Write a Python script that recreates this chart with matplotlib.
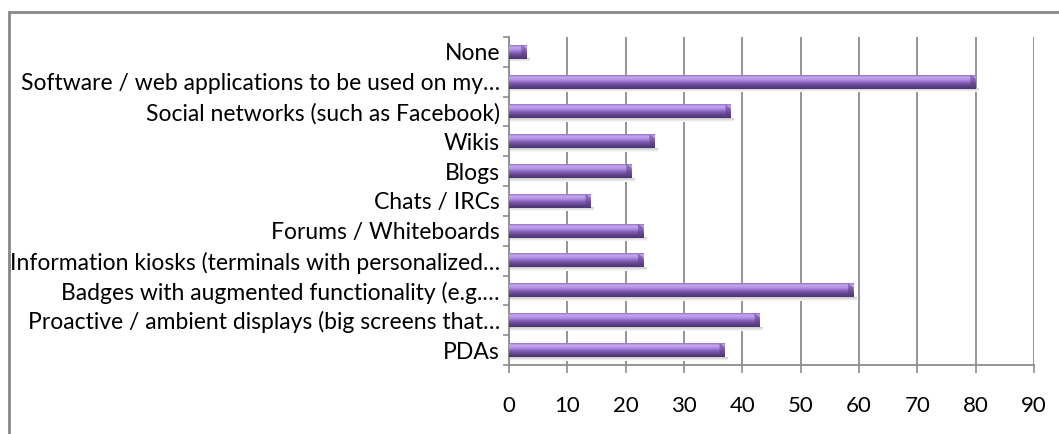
import matplotlib.pyplot as plt
import numpy as np
from matplotlib.colors import LinearSegmentedColormap
from matplotlib.patches import Rectangle

categories = [
    "PDAs",
    "Proactive / ambient displays (big screens that\u2026",
    "Badges with augmented functionality (e.g.\u2026",
    "Information kiosks (terminals with personalized\u2026",
    "Forums / Whiteboards",
    "Chats / IRCs",
    "Blogs",
    "Wikis",
    "Social networks (such as Facebook)",
    "Software / web applications to be used on my\u2026",
    "None",
]
values = [37, 43, 59, 23, 23, 14, 21, 25, 38, 80, 3]
x_ticks = [0, 10, 20, 30, 40, 50, 60, 70, 80, 90]

plt.rcParams["font.family"] = ["Lato", "DejaVu Sans"]

fig = plt.figure(figsize=(10.59, 4.34), dpi=100)
ax = fig.add_axes([509 / 1059, 69 / 434, 525 / 1059, 328 / 434])

# purple "cylinder" shading, top to bottom
bar_cmap = LinearSegmentedColormap.from_list(
    "cyl",
    [
        (0.0, "#9274c2"),
        (0.15, "#c7a6f3"),
        (0.35, "#b08ee3"),
        (0.55, "#8460b8"),
        (0.8, "#5e4287"),
        (1.0, "#4a3470"),
    ],
)
grad = np.linspace(0, 1, 64).reshape(-1, 1)
shadow = LinearSegmentedColormap.from_list("sh", [(0, "#c8c8c8"), (1, "#ffffff")])

h = 0.46
for i, v in enumerate(values):
    # soft shadow under the bar
    ax.imshow(grad, cmap=shadow, aspect="auto", origin="upper",
              extent=(0, v + 0.5, i - h / 2 - 0.12, i - h / 2), zorder=1.5,
              interpolation="bilinear")
    ax.imshow(grad, cmap=bar_cmap, aspect="auto", origin="upper",
              extent=(0, v, i - h / 2, i + h / 2), zorder=3,
              interpolation="bilinear")
    # bevelled end cap
    ax.fill([v - 0.9, v, v, v - 0.9], [i + h / 2, i + h / 2 - 0.12, i - h / 2 + 0.05, i - h / 2],
            color="#5a3f82", alpha=0.55, zorder=3.5, lw=0)

ax.set_xlim(0, 90)
ax.set_ylim(-0.5, len(values) - 0.5)
ax.set_xticks(x_ticks)
ax.set_xticklabels([str(t) for t in x_ticks], fontsize=16)
ax.set_yticks(range(len(categories)))
ax.set_yticklabels(categories, fontsize=16.5)
ax.set_yticks(np.arange(-0.5, len(values), 1), minor=True)

ax.grid(axis="x", color="#8c8c8c", linewidth=1.3, zorder=1)
ax.set_axisbelow(True)
ax.tick_params(axis="y", which="major", length=0, pad=6.5)
ax.tick_params(axis="y", which="minor", length=4, color="#8c8c8c", width=1.2)
ax.tick_params(axis="x", length=6, color="#8c8c8c", width=1.2, pad=16)
for side in ["top", "right"]:
    ax.spines[side].set_visible(False)
for side in ["left", "bottom"]:
    ax.spines[side].set_color("#8c8c8c")
    ax.spines[side].set_linewidth(1.3)

# chart-area border
fig.patches.append(Rectangle((9 / 1059, -0.1), 1.2, (434 - 12) / 434 + 0.1,
                             transform=fig.transFigure, fill=False,
                             edgecolor="#868686", linewidth=2))

fig.savefig("out.png", dpi=100)
